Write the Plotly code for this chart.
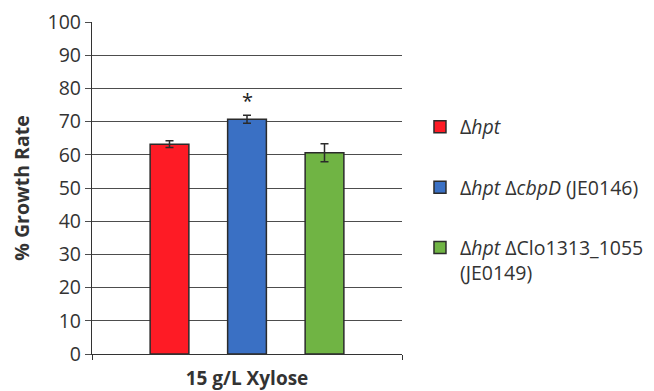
import plotly.graph_objects as go

categories = ["15 g/L Xylose"]
series_names = [
    "Δ<i>hpt</i>",
    "Δ<i>hpt</i> Δ<i>cbpD</i> (JE0146)",
    "Δ<i>hpt</i> ΔClo1313_1055<br>(JE0149)",
]
growth_rate = [63.2, 70.7, 60.6]
growth_err = [1.0, 1.2, 2.7]
colors = ["#fe1b25", "#3a70c4", "#70b444"]
star_value = 76.5

FONT = "'Open Sans', sans-serif"

fig = go.Figure()
for i, name in enumerate(series_names):
    fig.add_trace(go.Bar(
        x=categories, y=[growth_rate[i]], name=name,
        marker=dict(color=colors[i], line=dict(color="#2b2b2b", width=1.5)),
        error_y=dict(type="data", array=[growth_err[i]], color="#2b2b2b", thickness=1.5, width=4),
        legendgroup=f"g{i}",
    ))

fig.add_annotation(x=categories[0], y=star_value, text="*", showarrow=False,
                   font=dict(family=FONT, size=20, color="#222"), yanchor="middle")

# page body has an 8px default margin, so margins are offset to compensate
fig.update_layout(
    width=654, height=391,
    margin=dict(l=84, r=260, t=14, b=45, autoexpand=False),
    paper_bgcolor="white", plot_bgcolor="white",
    barmode="group", bargap=0.25, bargroupgap=0.5,
    font=dict(family=FONT, color="#333"),
    showlegend=True,
    legend=dict(x=1.058, xanchor="left", y=0.742, yanchor="top",
                font=dict(family=FONT, size=19.5, color="#333"),
                tracegroupgap=32, valign="top", itemwidth=30),
    yaxis=dict(range=[0, 100], dtick=10, showgrid=True, gridcolor="#4d4d4d", gridwidth=1.3,
               showline=True, linecolor="#333", linewidth=1.3,
               ticks="outside", ticklen=6, tickcolor="#4d4d4d", automargin=False,
               ticklabeloverflow="allow",
               tickfont=dict(family=FONT, size=19.5, color="#333"),
               title=dict(text="<b>% Growth Rate</b>", font=dict(family=FONT, size=19.5, color="#333"), standoff=14),
               zeroline=False),
    xaxis=dict(showline=True, linecolor="#333", linewidth=1.3, automargin=False,
               ticks="outside", ticklen=5, tickcolor="#333", tickson="boundaries",
               tickfont=dict(family=FONT, size=19, color="#333"),
               tickprefix="<b>", ticksuffix="</b>", ticklabelstandoff=7),
)

fig.write_html("out.html")
